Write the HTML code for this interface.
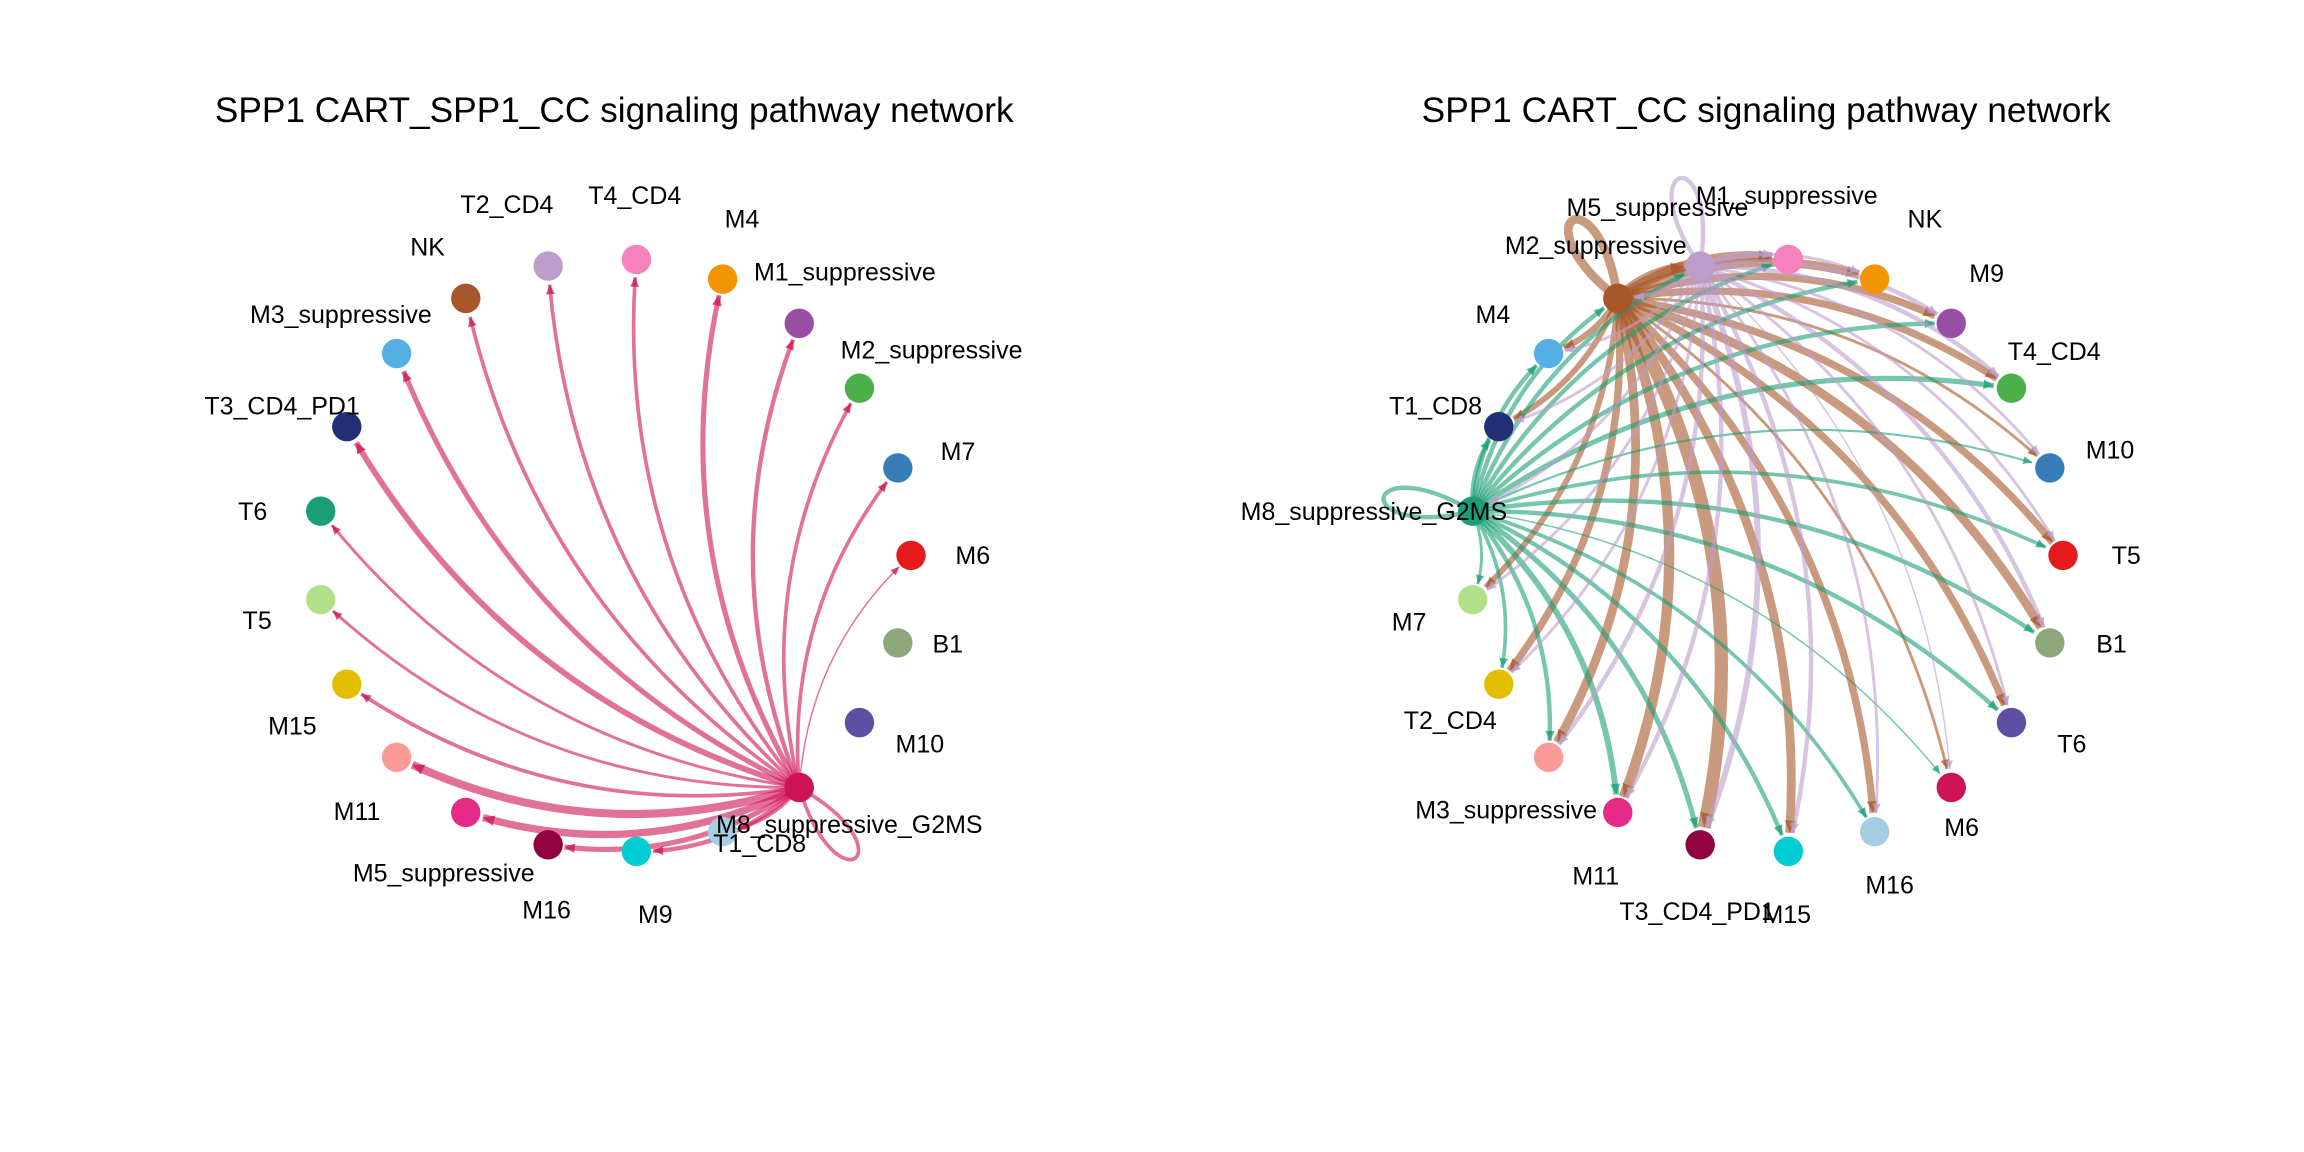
<!DOCTYPE html>
<html><head><meta charset="utf-8"><title>SPP1 signaling pathway networks</title>
<style>html,body{margin:0;padding:0;background:#fff;}svg{display:block;}</style></head>
<body>
<svg id="chart" width="2304" height="1152" viewBox="0 0 1568 784" xmlns="http://www.w3.org/2000/svg" font-family="Liberation Sans, Arial, sans-serif">
<rect width="1568" height="784" fill="#fff"/>
<text x="418" y="83" text-anchor="middle" font-size="24" fill="#000">SPP1 CART_SPP1_CC signaling pathway network</text>
<text x="1202" y="83" text-anchor="middle" font-size="24" fill="#000">SPP1 CART_CC signaling pathway network</text>
<g id="left"></g>
<g id="right"></g>
</svg>
<script>
// ---- data ----
const nodeColors = ["#E41A1C","#377EB8","#4DAF4A","#984EA3","#F29403","#F781BF","#BC9DCC","#A65628","#54B0E4","#222F75","#1B9E77","#B2DF8A","#E3BE00","#FB9A99","#E7298A","#910241","#00CDD1","#A6CEE3","#CE1256","#5E4FA2","#8CA77B"];
const leftLabels = ["M6","M7","M2_suppressive","M1_suppressive","M4","T4_CD4","T2_CD4","NK","M3_suppressive","T3_CD4_PD1","T6","T5","M15","M11","M5_suppressive","M16","M9","T1_CD8","M8_suppressive_G2MS","M10","B1"];
const rightLabels = ["T5","M10","T4_CD4","M9","NK","M1_suppressive","M5_suppressive","M2_suppressive","M4","T1_CD8","M8_suppressive_G2MS","M7","T2_CD4","M3_suppressive","M11","T3_CD4_PD1","M15","M16","M6","T6","B1"];
const leftSource = 18;
const leftWeights = [1,2.5,2.5,3,3.5,2.5,2.5,2.5,3.5,4,2,2,2.5,5.5,5,3.5,3,2.5,2.5,0,0];
const rightSourceBrown = 7;
const rightWeightsBrown = [5,2,5,5,6,7,7,6,4,4,0,4,5,6,7,9,6,5,2,5,6];
const rightSourceGreen = 10;
const rightWeightsGreen = [2.5,1.5,3.5,3,3,3,3,3,3,3,3,2,2.5,3,4,3.5,3,2.5,1,3,3];
const rightSourceLav = 6;
const rightWeightsLav = [2,2,3,3,2,3,3,3,2,2,2,2,2,3,3,4,3,2,1,2,3];
// ---- layout constants ----
const NS="http://www.w3.org/2000/svg";
const R=202, NR=10;
const leftLabelPos=[[662,378],[652,307],[634,238],[575,185],[505,149],[432,133],[345,139],[291,168],[232,214],[192,276],[172,348],[175,422],[199,494],[243,552],[302,594],[372,619],[446,622],[517,574],[578,561],[626,506],[645,438]];
const rightLabelPos=[[1447,378],[1436,306],[1398,239],[1352,186],[1310,149],[1216,133],[1128,141],[1086,167],[1016,214],[977,276],[935,348],[959,423],[987,490],[1025,551],[1086,596],[1155,620],[1216,622],[1286,602],[1335,563],[1410,506],[1437,438]];

function nodePos(cx,cy,k){const a=k*2*Math.PI/21;return [cx+R*Math.cos(a),cy-R*Math.sin(a)];}
function mk(tag,attrs,parent){const e=document.createElementNS(NS,tag);for(const k in attrs)e.setAttribute(k,attrs[k]);parent.appendChild(e);return e;}
function bez(p0,c,p1,t){const u=1-t;return [u*u*p0[0]+2*u*t*c[0]+t*t*p1[0],u*u*p0[1]+2*u*t*c[1]+t*t*p1[1]];}

function drawEdges(g,cx,cy,src,weights,color,name){
  const p0=nodePos(cx,cy,src);
  weights.forEach((w,k)=>{
    if(w<=0)return;
    if(k===src){
      const a=src*2*Math.PI/21, d=88, sp=0.38;
      const c1=[p0[0]+d*Math.cos(a-sp),p0[1]-d*Math.sin(a-sp)];
      const c2=[p0[0]+d*Math.cos(a+sp),p0[1]-d*Math.sin(a+sp)];
      const loop=mk('path',{d:`M${p0[0]},${p0[1]} C${c1[0]},${c1[1]} ${c2[0]},${c2[1]} ${p0[0]},${p0[1]}`,fill:'none',stroke:color,'stroke-opacity':0.6,'stroke-width':w},g);
      
      
      return;
    }
    const p1=nodePos(cx,cy,k);
    const dx=p1[0]-p0[0],dy=p1[1]-p0[1];
    const c=[(p0[0]+p1[0])/2+0.2*dy,(p0[1]+p1[1])/2-0.2*dx];
    let t=1;while(t>0.5){const q=bez(p0,c,p1,t);if(Math.hypot(q[0]-p1[0],q[1]-p1[1])>NR+1)break;t-=0.005;}
    const e=bez(p0,c,p1,t);
    const cc=[p0[0]+(c[0]-p0[0])*t,p0[1]+(c[1]-p0[1])*t];
    const path=mk('path',{d:`M${p0[0]},${p0[1]} Q${cc[0]},${cc[1]} ${e[0]},${e[1]}`,fill:'none',stroke:color,'stroke-opacity':0.6,'stroke-width':w},g);
    
    
    const tx=e[0]-cc[0],ty=e[1]-cc[1],L=Math.hypot(tx,ty)||1,ux=tx/L,uy=ty/L;
    const s=4+w*0.4;
    const a1=[e[0]-ux*s*1.3-uy*s*0.6,e[1]-uy*s*1.3+ux*s*0.6],a2=[e[0]-ux*s*1.3+uy*s*0.6,e[1]-uy*s*1.3-ux*s*0.6];
    const ar=mk('polygon',{points:`${e[0]},${e[1]} ${a1[0]},${a1[1]} ${a2[0]},${a2[1]}`,fill:color,'fill-opacity':0.75},g);
    
    
  });
}
function drawNodes(g,cx,cy,labels,labelPos,prefix){
  labels.forEach((lab,k)=>{
    const p=nodePos(cx,cy,k);
    const c=mk('circle',{cx:p[0],cy:p[1],r:NR,fill:nodeColors[k]},g);
    
    
  });
  labels.forEach((lab,k)=>{
    const lp=labelPos[k];
    const t=mk('text',{x:lp[0],y:lp[1]+6,'text-anchor':'middle','font-size':17,fill:'#000'},g);
    t.textContent=lab;
    
    
  });
}
const gl=document.getElementById('left'), gr=document.getElementById('right');
drawEdges(gl,418,378,leftSource,leftWeights,nodeColors[leftSource],'left');
drawNodes(gl,418,378,leftLabels,leftLabelPos,'left');
drawEdges(gr,1202,378,rightSourceBrown,rightWeightsBrown,nodeColors[rightSourceBrown],'right-brown');
drawEdges(gr,1202,378,rightSourceGreen,rightWeightsGreen,nodeColors[rightSourceGreen],'right-green');
drawEdges(gr,1202,378,rightSourceLav,rightWeightsLav,nodeColors[rightSourceLav],'right-lavender');
drawNodes(gr,1202,378,rightLabels,rightLabelPos,'right');
</script>
</body></html>
